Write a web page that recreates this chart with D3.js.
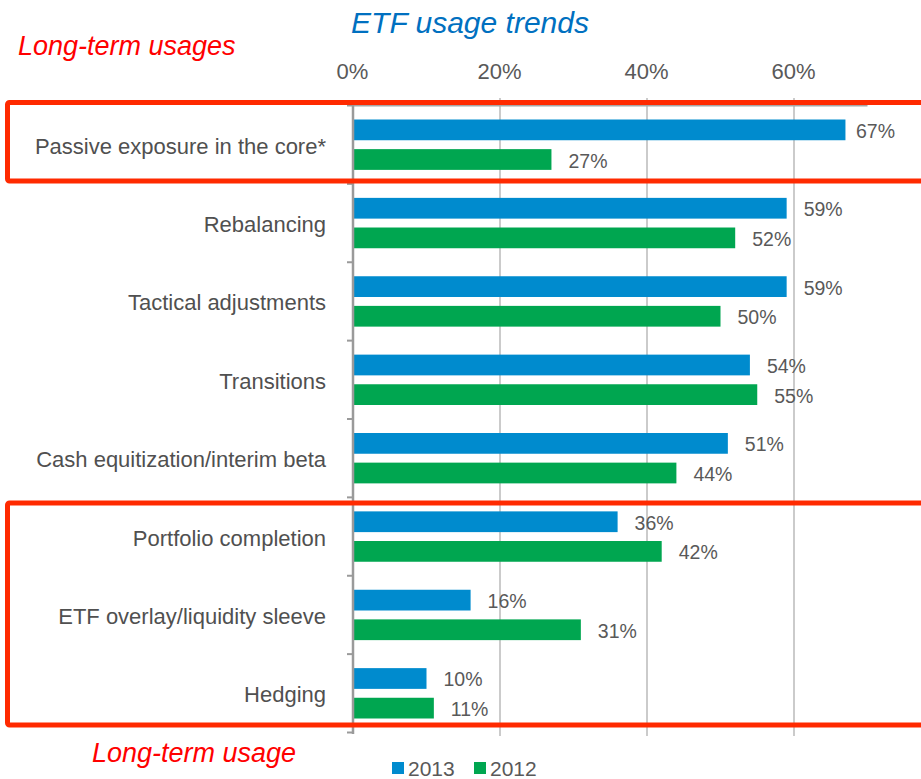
<!DOCTYPE html>
<html><head><meta charset="utf-8">
<script src="https://cdn.jsdelivr.net/npm/d3@7"></script>
<style>body{margin:0;background:#fff}svg{display:block;font-family:"Liberation Sans",Arial,sans-serif}</style>
</head><body><svg id="c" width="921" height="779"></svg>
<script>
const categories = ["Passive exposure in the core*","Rebalancing","Tactical adjustments","Transitions","Cash equitization/interim beta","Portfolio completion","ETF overlay/liquidity sleeve","Hedging"];
const series = ["2013","2012"];
const values2013 = [67,59,59,54,51,36,16,10];
const values2012 = [27,52,50,55,44,42,31,11];
const tickValues = [0,20,40,60];
const colors = ["#008BCE","#00A650"];

const svg = d3.select("#c");
const x = d3.scaleLinear().domain([0,70]).range([353,867.5]);
const y = d3.scaleBand().domain(categories).range([105.5,732.5]);
const inner = d3.scaleBand().domain(series).range([14, y.bandwidth()-14]).paddingInner(0.3);

// gridlines
svg.append("g").selectAll("line").data(tickValues.filter(d=>d>0)).join("line")
  .attr("x1",d=>x(d)).attr("x2",d=>x(d)).attr("y1",98).attr("y2",736)
  .attr("stroke","#CBCBCB").attr("stroke-width",2);
// top line
svg.append("line").attr("x1",x(0)).attr("x2",x(70)).attr("y1",105.5).attr("y2",105.5).attr("stroke","#A6A6A6").attr("stroke-width",2);

// top axis labels
const ax = d3.axisTop(x).tickValues(tickValues).tickFormat(d=>d+"%").tickSize(0).tickPadding(0);
const axg = svg.append("g").attr("transform","translate(0,79)").call(ax);
axg.select(".domain").remove();
axg.selectAll("text").attr("font-size",22).attr("fill","#595959").attr("font-family","Liberation Sans, Arial, sans-serif").attr("dy","0").attr("dx","-1");

// bars
const data = [];
categories.forEach((c,i)=>{ data.push({c,s:"2013",v:values2013[i]}); data.push({c,s:"2012",v:values2012[i]}); });
svg.append("g").selectAll("rect").data(data).join("rect")
  .attr("x",x(0)+1).attr("y",d=>y(d.c)+inner(d.s))
  .attr("width",d=>x(d.v)-x(0)-1).attr("height",inner.bandwidth())
  .attr("fill",d=>colors[series.indexOf(d.s)]);
svg.append("g").selectAll("text").data(data).join("text")
  .attr("x",d=>Math.min(x(d.v)+17, 856)).attr("y",d=>y(d.c)+inner(d.s)+inner.bandwidth()/2+8)
  .attr("font-size",19.5).attr("fill","#595959").text(d=>d.v+"%");

// left axis
const ay = d3.axisLeft(y).tickSize(0).tickPadding(27);
const ayg = svg.append("g").attr("transform",`translate(${x(0)},0)`).call(ay);
ayg.select(".domain").remove();
ayg.selectAll("text").attr("font-size",22).attr("fill","#505050").attr("font-family","Liberation Sans, Arial, sans-serif").attr("dy","0").attr("y",9);
svg.append("line").attr("x1",x(0)).attr("x2",x(0)).attr("y1",105).attr("y2",734).attr("stroke","#9A9A9A").attr("stroke-width",2.5);
const bounds = categories.map(c=>y(c)).concat([y.range()[1]]);
svg.append("g").selectAll("line").data(bounds).join("line")
  .attr("x1",x(0)-6).attr("x2",x(0)).attr("y1",d=>d).attr("y2",d=>d)
  .attr("stroke","#9A9A9A").attr("stroke-width",2);

// red boxes
svg.append("rect").attr("x",7.5).attr("y",102.5).attr("width",930).attr("height",78.5).attr("rx",2)
  .attr("fill","none").attr("stroke","#FF2A00").attr("stroke-width",5);
svg.append("rect").attr("x",7.5).attr("y",503).attr("width",930).attr("height",222).attr("rx",2)
  .attr("fill","none").attr("stroke","#FF2A00").attr("stroke-width",5);

// titles
svg.append("text").attr("x",470).attr("y",33).attr("text-anchor","middle").attr("font-size",30)
  .attr("font-style","italic").attr("fill","#0070C0").text("ETF usage trends");
svg.append("text").attr("x",18).attr("y",55).attr("font-size",27)
  .attr("font-style","italic").attr("fill","#FF0000").text("Long-term usages");
svg.append("text").attr("x",92).attr("y",762).attr("font-size",27)
  .attr("font-style","italic").attr("fill","#FF0000").text("Long-term usage");

// legend
const lg = svg.append("g").selectAll("g").data(series).join("g")
  .attr("transform",(d,i)=>`translate(${392+i*82},0)`);
lg.append("rect").attr("x",0).attr("y",762).attr("width",12).attr("height",12).attr("fill",(d,i)=>colors[i]);
lg.append("text").attr("x",16).attr("y",776).attr("font-size",21).attr("fill","#595959").text(d=>d);
</script></body></html>
